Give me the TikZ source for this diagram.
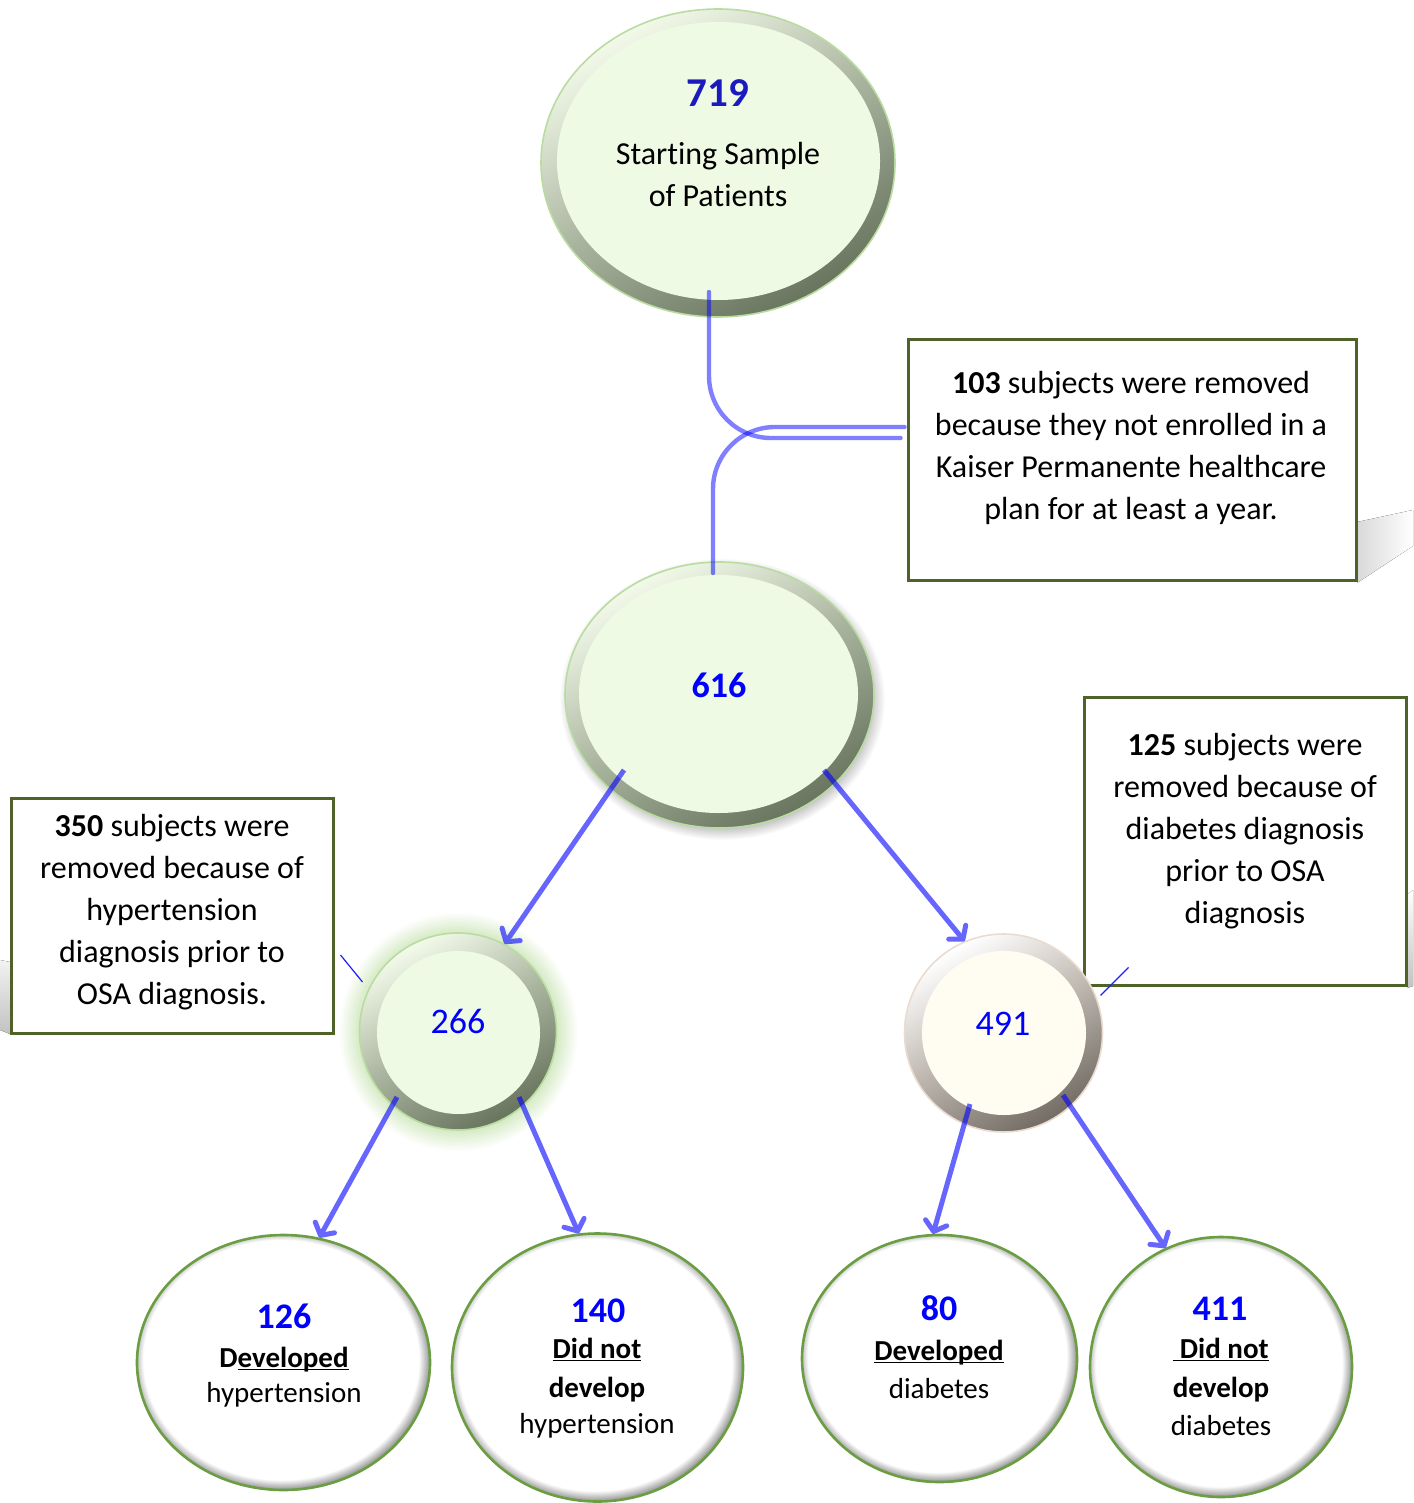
\documentclass[tikz,border=0pt]{standalone}
\usepackage{fontspec}
\setmainfont{Carlito}[Ligatures={NoCommon,NoContextual},Contextuals=NoAlternate]
\usetikzlibrary{arrows.meta,calc,shapes.geometric}
\definecolor{ringL}{HTML}{F3FAEA}
\definecolor{ringM}{HTML}{A9B49E}
\definecolor{ringD}{HTML}{69745F}
\definecolor{innerG}{HTML}{EFFAE4}
\definecolor{rimG}{HTML}{B9DCA0}
\definecolor{ringLb}{HTML}{FFFFFF}
\definecolor{ringMb}{HTML}{BDB6AE}
\definecolor{ringDb}{HTML}{736C64}
\definecolor{innerB}{HTML}{FFFDF1}
\definecolor{rimB}{HTML}{EADBD0}
\definecolor{boxgreen}{HTML}{4F6228}
\definecolor{bottomgreen}{HTML}{6B9E42}
\definecolor{numblue}{HTML}{0000FF}
\definecolor{darkblue}{HTML}{1A1ABE}
\definecolor{glowc}{HTML}{D5EAC4}
\definecolor{shadowc}{HTML}{BDBDBD}
\definecolor{rimshadow}{HTML}{8A8A8A}
\definecolor{calloutblue}{HTML}{1E1EFF}
\pgfdeclareradialshading{rimshade}{\pgfpoint{-0.8bp}{1bp}}{color(0bp)=(white); color(23.5bp)=(white); color(25.6bp)=(rimshadow); color(50bp)=(rimshadow)}
\pgfdeclareradialshading{glowshade}{\pgfpoint{0bp}{0bp}}{color(0bp)=(glowc); color(20.5bp)=(glowc); color(25bp)=(white); color(50bp)=(white)}
\pgfdeclareradialshading{dropshade}{\pgfpoint{0bp}{0bp}}{color(0bp)=(shadowc); color(22.5bp)=(shadowc); color(25bp)=(white); color(50bp)=(white)}
\newcommand{\ulsm}[1]{\underline{\smash{#1}}}
\begin{document}
\begin{tikzpicture}[x=0.5pt,y=-0.5pt,
  greenring/.style={ellipse, inner sep=0, top color=ringL, bottom color=ringD, middle color=ringM, shading angle=30, draw=rimG, line width=0.8pt},
  beigering/.style={ellipse, inner sep=0, top color=ringLb, bottom color=ringDb, middle color=ringMb, shading angle=30, draw=rimB, line width=0.8pt},
  greeninner/.style={ellipse, inner sep=0, fill=innerG},
  beigeinner/.style={ellipse, inner sep=0, fill=innerB},
  bottomcirc/.style={ellipse, inner sep=0, shade, shading=rimshade, draw=bottomgreen, line width=1.3pt},
  notebox/.style={rectangle, inner sep=0, fill=white, draw=boxgreen, line width=1.5pt},
  boxtxt/.style={font=\fontsize{16}{21}\selectfont, align=center, inner sep=0},
  lbl/.style={font=\fontsize{16}{21}\selectfont, inner sep=0, anchor=base},
  small/.style={font=\fontsize{14.5}{18}\selectfont, inner sep=0, anchor=base},
  smallbold/.style={font=\fontsize{14.5}{18}\selectfont\bfseries, inner sep=0, anchor=base},
  numbold/.style={font=\fontsize{18}{22}\selectfont\bfseries, text=numblue, inner sep=0, anchor=base},
  numreg/.style={font=\fontsize{18}{22}\selectfont, text=numblue, inner sep=0, anchor=base},
  conn/.style={draw=blue, draw opacity=0.5, line width=2.2pt, rounded corners=31pt, line cap=round},
  arr/.style={draw=blue, line width=2.5pt, -{Straight Barb[length=4.5pt,width=11pt,round]}},
  callout/.style={draw=calloutblue, line width=0.6pt}]
\useasboundingbox (0,0) rectangle (1413,1503);

% soft shadows of the note boxes
\fill[left color=black!15, right color=white] (1357,522) -- (1413,510) -- (1413,546) -- (1357,583) -- cycle;
\fill[top color=white, bottom color=black!24] (1407,895) -- (1413,890) -- (1413,986) -- (1407,988) -- cycle;
\fill[top color=black!5, bottom color=black!24] (0,960) -- (10,962) -- (10,1034) -- (0,1030) -- cycle;

% top ellipse
\node[greenring, minimum width=177pt, minimum height=154pt] (n719) at (718,163) {};
\node[greeninner, minimum width=161.5pt, minimum height=139pt] (n719i) at (718.5,161) {};
\node[font=\fontsize{20.5}{24}\selectfont\bfseries, text=darkblue, inner sep=0, anchor=base] (t719) at (718,107) {719};
\node[lbl] (t719b) at (718,165) {Starting Sample};
\node[lbl] (t719c) at (718,206) {of Patients};

% note box 1
\node[notebox, minimum width=224pt, minimum height=120.5pt] (box1) at (1132,459.5) {};
\node[boxtxt] (tb1) at (1131,448) {\textbf{103} subjects were removed\\because they not enrolled in a\\Kaiser Permanente healthcare\\plan for at least a year.};

% 616
\node[ellipse, inner sep=0, shade, shading=dropshade, minimum width=163pt, minimum height=141pt] (n616s) at (722,699) {};
\node[greenring, minimum width=154.5pt, minimum height=133pt] (n616) at (719.5,695) {};
\node[greeninner, minimum width=139.5pt, minimum height=119pt] (n616i) at (718.5,694) {};
\node[numbold] (t616) at (719,697) {616};

% note box 2 and 3
\node[notebox, minimum width=161pt, minimum height=117.5pt] (box2) at (172,915.5) {};
\node[boxtxt] (tb2) at (172,912.5) {\textbf{350} subjects were\\removed because of\\hypertension\\diagnosis prior to\\OSA diagnosis.};
\node[notebox, minimum width=161pt, minimum height=144pt] (box3) at (1245,841) {};
\node[boxtxt] (tb3) at (1245,831) {\textbf{125} subjects were\\removed because of\\diabetes diagnosis\\prior to OSA\\diagnosis};

% 266
\node[circle, inner sep=0, shade, shading=glowshade, minimum size=120pt] (n266g) at (458,1031.5) {};
\node[greenring, circle, minimum size=98.5pt] (n266) at (458,1031.5) {};
\node[greeninner, circle, minimum size=81.5pt] (n266i) at (458.5,1032.5) {};
\node[numreg] (t266) at (458,1033) {266};

% 491
\node[beigering, circle, minimum size=99pt] (n491) at (1003.5,1033) {};
\node[beigeinner, circle, minimum size=82pt] (n491i) at (1004,1033) {};
\node[numreg] (t491) at (1003,1035) {491};

% bottom circles
\node[bottomcirc, minimum width=146.5pt, minimum height=127.5pt] (n126) at (283.5,1362.5) {};
\node[numbold] (t126) at (284,1328) {126};
\node[smallbold] (t126b) at (284,1367) {D\ulsm{eveloped}};
\node[small] (t126c) at (284,1402) {hypertension};

\node[bottomcirc, minimum width=145.5pt, minimum height=134pt] (n140) at (597.5,1367.5) {};
\node[numbold] (t140) at (598,1322) {140};
\node[smallbold] (t140b) at (597,1358) {\ulsm{Did not}};
\node[smallbold] (t140c) at (597,1397) {develop};
\node[small] (t140d) at (597,1433) {hypertension};

\node[bottomcirc, minimum width=137.5pt, minimum height=123.5pt] (n80) at (939.5,1358.5) {};
\node[numbold] (t80) at (939,1320) {80};
\node[smallbold] (t80b) at (939,1360) {\ulsm{Developed}};
\node[small] (t80c) at (939,1398) {diabetes};

\node[bottomcirc, minimum width=131pt, minimum height=130pt] (n411) at (1221,1367) {};
\node[numbold] (t411) at (1220,1320) {411};
\node[smallbold] (t411b) at (1221,1358) {\ulsm{\ Did not}};
\node[smallbold] (t411c) at (1221,1397) {develop};
\node[small] (t411d) at (1221,1435) {diabetes};

% top connectors (the two crossing rounded lines)
\coordinate (a0) at ($(n719.center)+(-9,129)$);
\coordinate (a1) at ($(box1.west)+(-6,-21.5)$);
\coordinate (b0) at ($(box1.west)+(-2,-32.5)$);
\coordinate (b1) at ($(n616.center)+(-6.5,-122)$);
\draw[conn] (a0) |- (a1);
\draw[conn] (b0) -| (b1);

% arrows
\begin{scope}[transparency group, opacity=0.6]
\draw[arr] ($(n616.center)+(-95.5,75)$) -- (n266.62);
\draw[arr] ($(n616.center)+(104.5,75)$) -- (n491.113);
\draw[arr] ($(n266.center)+(-61,65.5)$) -- (n126.74);
\draw[arr] ($(n266.center)+(61,65.5)$) -- (n140.98);
\draw[arr] ($(n491.center)+(-33.5,71)$) -- (n80.93);
\draw[arr] ($(n491.center)+(59.5,62)$) -- (n411.115);
\end{scope}

% thin callout ticks
\coordinate (c1) at ($(box2.east)+(6,39.5)$);
\coordinate (c2) at ($(box2.east)+(28,66.5)$);
\coordinate (c3) at ($(box3.south west)+(18,9)$);
\coordinate (c4) at ($(box3.south west)+(46,-19)$);
\draw[callout] (c1) -- (c2);
\draw[callout] (c3) -- (c4);
\end{tikzpicture}
\end{document}
